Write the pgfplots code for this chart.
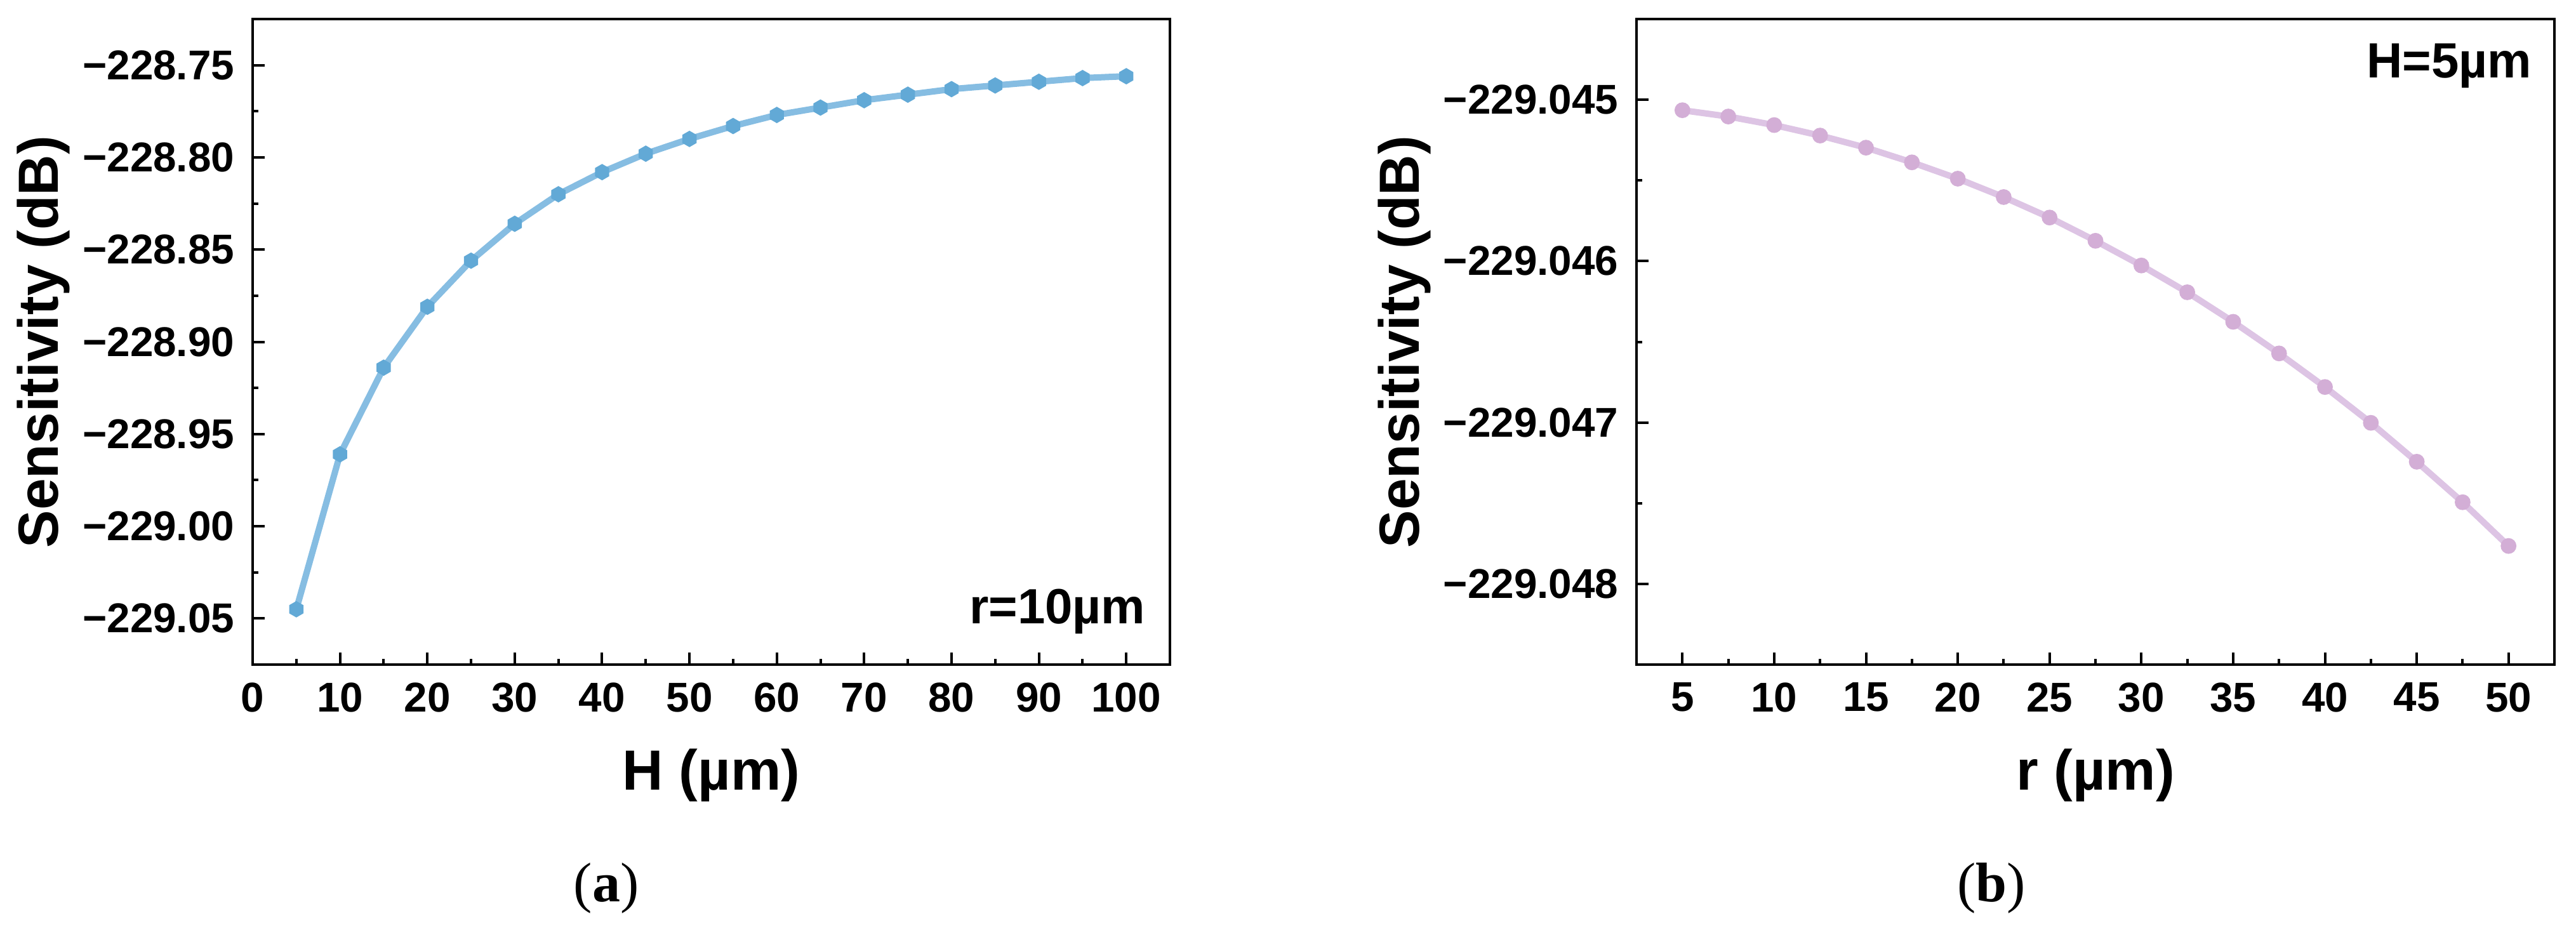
\documentclass[border=0pt]{standalone}
\usepackage{fontspec}
\setmainfont{Liberation Sans}
\newfontfamily\capfont{Liberation Serif}
\usepackage{pgfplots}
\pgfplotsset{compat=1.18}
\usepackage{pgfplotstable}

\newcommand\tickfont{\fontsize{16.4pt}{16.4pt}\selectfont\bfseries}
\newcommand\labfont{\fontsize{22.3pt}{22.3pt}\selectfont\bfseries}
\newcommand\annfont{\fontsize{19.5pt}{19.5pt}\selectfont\bfseries}

\definecolor{lblue}{RGB}{134,189,226}
\definecolor{mblue}{RGB}{98,169,214}
\definecolor{lpurp}{RGB}{221,196,228}
\definecolor{mpurp}{RGB}{211,174,214}

\pgfdeclareplotmark{hexagon*}{%
  \pgfpathmoveto{\pgfpointpolar{90}{\pgfplotmarksize}}%
  \pgfpathlineto{\pgfpointpolar{150}{\pgfplotmarksize}}%
  \pgfpathlineto{\pgfpointpolar{210}{\pgfplotmarksize}}%
  \pgfpathlineto{\pgfpointpolar{270}{\pgfplotmarksize}}%
  \pgfpathlineto{\pgfpointpolar{330}{\pgfplotmarksize}}%
  \pgfpathlineto{\pgfpointpolar{30}{\pgfplotmarksize}}%
  \pgfpathclose
  \pgfusepathqfillstroke}

% (a) Sensitivity vs H, r = 10 um.  Column S: Sensitivity + 229 (dB)
\pgfplotstableread{
H    S
5   -0.045
10   0.039
15   0.086
20   0.119
25   0.144
30   0.164
35   0.180
40   0.192
45   0.202
50   0.210
55   0.217
60   0.223
65   0.227
70   0.231
75   0.234
80   0.237
85   0.239
90   0.241
95   0.243
100  0.244
}\dataA

% (b) Sensitivity vs r, H = 5 um.  Column S: (Sensitivity + 229.045) x 1000 (dB)
\pgfplotstableread{
r     S
5    -0.065
7.5  -0.104
10   -0.157
12.5 -0.222
15   -0.297
17.5 -0.388
20   -0.489
22.5 -0.603
25   -0.730
27.5 -0.874
30   -1.027
32.5 -1.193
35   -1.376
37.5 -1.572
40   -1.780
42.5 -2.002
45   -2.243
47.5 -2.494
50   -2.765
}\dataB

\pgfplotsset{
  mystyle/.style={
    scale only axis,
    axis line style={line width=1pt},
    every tick/.style={black, line width=1pt},
    tick align=inside,
    major tick length=4.75pt,
    minor tick length=2.25pt,
    xtick pos=bottom, ytick pos=left,
    ticklabel style={font=\tickfont},
    xticklabel style={anchor=north, inner sep=0pt, yshift=-7pt},
    yticklabel style={anchor=east, inner sep=0pt, xshift=-7pt},
    /pgf/number format/assume math mode=true,
    scaled ticks=false,
    label style={font=\labfont},
    xlabel style={at={(axis description cs:0.5,-0.1937)}, anchor=base},
    clip=false,
  }
}

\begin{document}
\begin{tikzpicture}[x=1pt,y=1pt]
\path[use as bounding box] (0,0) rectangle (1014.5,365.25);

\begin{axis}[mystyle,
  at={(99.5pt,103.5pt)}, anchor=south west,
  width=361.25pt, height=254.25pt,
  xmin=0, xmax=105, ymin=-0.075, ymax=0.275,
  xtick={0,10,...,100}, minor x tick num=1,
  ytick={-0.05,0,0.05,0.1,0.15,0.2,0.25}, minor y tick num=1,
  yticklabels={−229.05,−229.00,−228.95,−228.90,−228.85,−228.80,−228.75},
  xlabel={H (µm)}, ylabel={Sensitivity (dB)},
  ylabel style={at={(axis description cs:-0.2118,0.5)}, anchor=base, rotate=0},
]
\addplot[lblue, line width=2.5pt, mark=hexagon*, mark size=3pt,
  mark options={fill=mblue, draw=mblue, line width=0.4pt}] table[x=H,y=S] {\dataA};
\node[anchor=base east, inner sep=0pt, font=\annfont] at (axis description cs:0.9737,0.0639) {r=10µm};
\end{axis}

\begin{axis}[mystyle,
  at={(644.5pt,103.5pt)}, anchor=south west,
  width=361.5pt, height=254.25pt,
  xmin=2.5, xmax=52.5, ymin=-3.5, ymax=0.5,
  xtick={5,10,...,50}, minor x tick num=1,
  ytick={-3,-2,-1,0}, minor y tick num=1,
  yticklabels={−229.048,−229.047,−229.046,−229.045},
  xlabel={r (µm)}, ylabel={Sensitivity (dB)},
  ylabel style={at={(axis description cs:-0.2372,0.5)}, anchor=base, rotate=0},
]
\addplot[lpurp, line width=2.5pt, mark=*, mark size=2.9pt,
  mark options={fill=mpurp, draw=mpurp, line width=0.4pt}] table[x=r,y=S] {\dataB};
\node[anchor=base east, inner sep=0pt, font=\annfont] at (axis description cs:0.9758,0.9086) {H=5µm};
\end{axis}

\node[anchor=base, font=\capfont\fontsize{22pt}{22pt}\selectfont] at (238.75,10.25) {(\textbf{a})};
\node[anchor=base, font=\capfont\fontsize{22pt}{22pt}\selectfont] at (784.25,10.25) {(\textbf{b})};
\end{tikzpicture}
\end{document}
